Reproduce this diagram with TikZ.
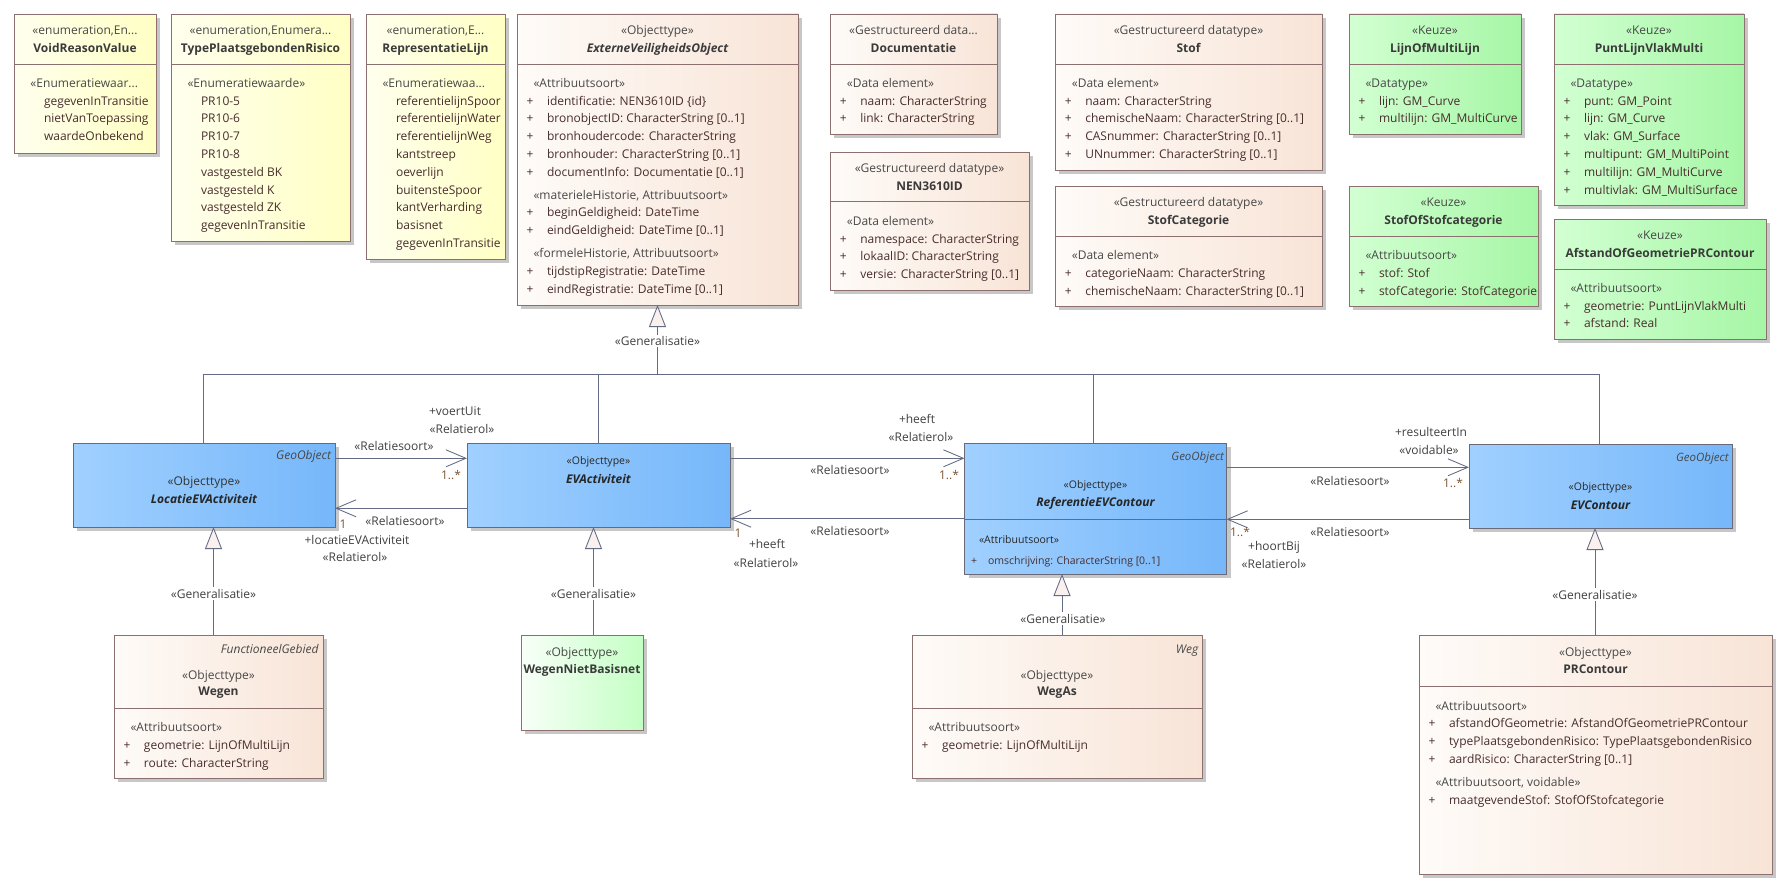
\documentclass[tikz,border=0pt]{standalone}
\usepackage{fontspec}
\setmainfont{Open Sans}
\usetikzlibrary{arrows.meta,shadows}
\definecolor{bordc}{RGB}{140,112,112}
\definecolor{bluB}{RGB}{105,105,120}
\definecolor{yelL}{RGB}{255,255,238}
\definecolor{yelR}{RGB}{255,255,196}
\definecolor{peaL}{RGB}{254,251,248}
\definecolor{peaR}{RGB}{248,228,215}
\definecolor{grnL}{RGB}{210,255,210}
\definecolor{grnR}{RGB}{166,246,166}
\definecolor{lgrL}{RGB}{248,255,248}
\definecolor{lgrR}{RGB}{196,255,196}
\definecolor{bluL}{RGB}{160,208,255}
\definecolor{bluR}{RGB}{118,183,250}
\definecolor{linc}{RGB}{98,106,132}
\definecolor{genfill}{RGB}{250,240,238}
\definecolor{stc}{RGB}{72,72,72}
\definecolor{ttc}{RGB}{58,58,58}
\definecolor{atc}{RGB}{72,45,45}
\definecolor{lbc}{RGB}{64,64,64}
\definecolor{mlc}{RGB}{125,85,50}
\newcommand\umlfs{\fontsize{12}{17.8}\selectfont}
\newcommand\umlpl[1]{\makebox[20.5pt][l]{+}#1}
\newcommand\umlst[1]{\hspace*{7pt}\textcolor{stc}{#1}}
\newcommand\umlen[1]{\hspace*{13.5pt}#1}
\newcommand\umlbox[6]{\node[#2, minimum width=#5pt, minimum height=#6pt] (#1) at (#3,#4) {};}
\begin{document}
\begin{tikzpicture}[x=1pt,y=-1pt,
  every node/.style={font=\umlfs, inner sep=0pt, outer sep=0pt},
  ubox/.style={draw=bordc, line width=0.9pt, anchor=north west,
    drop shadow={shadow xshift=4pt, shadow yshift=-4pt, fill=black!22, opacity=1}},
  yel/.style={ubox, left color=yelL, right color=yelR},
  peach/.style={ubox, left color=peaL, right color=peaR},
  grn/.style={ubox, left color=grnL, right color=grnR},
  lgrn/.style={ubox, left color=lgrL, right color=lgrR},
  blu/.style={ubox, draw=bluB, left color=bluL, right color=bluR},
  ster/.style={anchor=base, text=stc},
  ttl/.style={anchor=base, text=ttc, font=\umlfs\bfseries},
  ttli/.style={anchor=base, text=black!85, font=\umlfs\bfseries\itshape},
  attr/.style={anchor=base west, text=atc},
  geo/.style={anchor=base east, text=stc, font=\umlfs\itshape},
  bster/.style={anchor=base, text=black!85, font=\fontsize{10.5}{12}\selectfont},
  lbl/.style={anchor=base, text=lbc},
  mul/.style={anchor=base, text=mlc},
  glbl/.style={anchor=base, text=lbc, fill=white, inner sep=1.5pt},
  divl/.style={draw=bordc, line width=0.9pt},
  bdivl/.style={draw=bluB, line width=0.9pt},
  conn/.style={draw=linc, line width=0.85pt},
  assoc/.style={conn, -{Straight Barb[length=20pt,width=17pt]}},
  genl/.style={conn, -{Triangle[length=22pt,width=17pt,fill=genfill]}}
]
\path[use as bounding box, fill=white] (0,0) rectangle (1791,891);

% ---------- top row boxes ----------
\umlbox{void}{yel}{14}{14}{142}{139}
\umlbox{tpr}{yel}{171}{14}{179}{227}
\umlbox{rep}{yel}{366}{14}{139}{245}
\umlbox{evo}{peach}{517}{14}{281}{291}
\umlbox{doc}{peach}{830}{14}{167}{120}
\umlbox{nen}{peach}{830}{152}{199}{138}
\umlbox{stof}{peach}{1055}{14}{267}{156}
\umlbox{stofcat}{peach}{1055}{186}{267}{120}
\umlbox{lijn}{grn}{1349}{14}{172}{120}
\umlbox{sos}{grn}{1349}{186}{189}{120}
\umlbox{plvm}{grn}{1554}{14}{190}{191}
\umlbox{afst}{grn}{1554}{219}{212}{120}

% ---------- middle row ----------
\umlbox{loc}{blu}{73}{443}{262}{84}
\umlbox{eva}{blu}{467}{443}{263}{84}
\umlbox{ref}{blu}{964.5}{443}{262}{131}
\umlbox{evc}{blu}{1469}{444}{263}{84}

% ---------- bottom row ----------
\umlbox{wegen}{peach}{114}{635}{209}{143}
\umlbox{wnb}{lgrn}{521}{635}{122}{95}
\umlbox{wegas}{peach}{912}{635}{290}{143}
\umlbox{prc}{peach}{1419}{635}{353}{239}

% ---------- dividers ----------
\foreach \b in {void,tpr,rep,evo,doc,stof,lijn,plvm}
  \draw[divl] (\b.west |- 0,64.3) -- (\b.east |- 0,64.3);
\draw[divl] (nen.west |- 0,201.7) -- (nen.east |- 0,201.7);
\draw[divl] (stofcat.west |- 0,236.3) -- (stofcat.east |- 0,236.3);
\draw[divl] (sos.west |- 0,236.3) -- (sos.east |- 0,236.3);
\draw[divl] (afst.west |- 0,269.3) -- (afst.east |- 0,269.3);
\draw[bdivl] (ref.west |- 0,519.3) -- (ref.east |- 0,519.3);
\draw[divl] (wegen.west |- 0,708.3) -- (wegen.east |- 0,708.3);
\draw[divl] (wegas.west |- 0,708.3) -- (wegas.east |- 0,708.3);
\draw[divl] (prc.west |- 0,686) -- (prc.east |- 0,686);

% ---------- texts: enumerations ----------
\node[ster] (voidS) at (85,34.7) {«enumeration,En...};
\node[ttl] (voidT) at (85,52.7) {VoidReasonValue};
\node[attr] (voidA) at (30.5,87.3) {\begin{tabular}[t]{@{}l@{}}\textcolor{stc}{«Enumeratiewaar...}\\
\umlen{gegevenInTransitie}\\ \umlen{nietVanToepassing}\\ \umlen{waardeOnbekend}\end{tabular}};

\node[ster] (tprS) at (260.5,34.7) {«enumeration,Enumera...};
\node[ttl] (tprT) at (260.5,52.7) {TypePlaatsgebondenRisico};
\node[attr] (tprA) at (187.5,87.3) {\begin{tabular}[t]{@{}l@{}}\textcolor{stc}{«Enumeratiewaarde»}\\
\umlen{PR10-5}\\ \umlen{PR10-6}\\ \umlen{PR10-7}\\ \umlen{PR10-8}\\ \umlen{vastgesteld BK}\\
\umlen{vastgesteld K}\\ \umlen{vastgesteld ZK}\\ \umlen{gegevenInTransitie}\end{tabular}};

\node[ster] (repS) at (435.5,34.7) {«enumeration,E...};
\node[ttl] (repT) at (435.5,52.7) {RepresentatieLijn};
\node[attr] (repA) at (382.5,87.3) {\begin{tabular}[t]{@{}l@{}}\textcolor{stc}{«Enumeratiewaa...}\\
\umlen{referentielijnSpoor}\\ \umlen{referentielijnWater}\\ \umlen{referentielijnWeg}\\
\umlen{kantstreep}\\ \umlen{oeverlijn}\\ \umlen{buitensteSpoor}\\ \umlen{kantVerharding}\\
\umlen{basisnet}\\ \umlen{gegevenInTransitie}\end{tabular}};

% ---------- ExterneVeiligheidsObject ----------
\node[ster] (evoS) at (657.5,34.7) {«Objecttype»};
\node[ttli, text=ttc] (evoT) at (657.5,52.7) {ExterneVeiligheidsObject};
\node[attr] (evoA) at (526.5,87.3) {\begin{tabular}[t]{@{}l@{}}\umlst{«Attribuutsoort»}\\
\umlpl{identificatie: NEN3610ID \{id\}}\\
\umlpl{bronobjectID: CharacterString [0..1]}\\
\umlpl{bronhoudercode: CharacterString}\\
\umlpl{bronhouder: CharacterString [0..1]}\\
\umlpl{documentInfo: Documentatie [0..1]}\\[5pt]
\umlst{«materieleHistorie, Attribuutsoort»}\\
\umlpl{beginGeldigheid: DateTime}\\
\umlpl{eindGeldigheid: DateTime [0..1]}\\[5pt]
\umlst{«formeleHistorie, Attribuutsoort»}\\
\umlpl{tijdstipRegistratie: DateTime}\\
\umlpl{eindRegistratie: DateTime [0..1]}\end{tabular}};

% ---------- data types ----------
\node[ster] (docS) at (913.5,34.7) {«Gestructureerd data...};
\node[ttl] (docT) at (913.5,52.7) {Documentatie};
\node[attr] (docA) at (839.8,87.3) {\begin{tabular}[t]{@{}l@{}}\umlst{«Data element»}\\
\umlpl{naam: CharacterString}\\ \umlpl{link: CharacterString}\end{tabular}};

\node[ster] (nenS) at (929.5,172.3) {«Gestructureerd datatype»};
\node[ttl] (nenT) at (929.5,190) {NEN3610ID};
\node[attr] (nenA) at (839.8,225.3) {\begin{tabular}[t]{@{}l@{}}\umlst{«Data element»}\\
\umlpl{namespace: CharacterString}\\ \umlpl{lokaalID: CharacterString}\\
\umlpl{versie: CharacterString [0..1]}\end{tabular}};

\node[ster] (stofS) at (1188.5,34.7) {«Gestructureerd datatype»};
\node[ttl] (stofT) at (1188.5,52.7) {Stof};
\node[attr] (stofA) at (1064.8,87.3) {\begin{tabular}[t]{@{}l@{}}\umlst{«Data element»}\\
\umlpl{naam: CharacterString}\\ \umlpl{chemischeNaam: CharacterString [0..1]}\\
\umlpl{CASnummer: CharacterString [0..1]}\\ \umlpl{UNnummer: CharacterString [0..1]}\end{tabular}};

\node[ster] (stofcatS) at (1188.5,206.7) {«Gestructureerd datatype»};
\node[ttl] (stofcatT) at (1188.5,224.3) {StofCategorie};
\node[attr] (stofcatA) at (1064.8,259.7) {\begin{tabular}[t]{@{}l@{}}\umlst{«Data element»}\\
\umlpl{categorieNaam: CharacterString}\\ \umlpl{chemischeNaam: CharacterString [0..1]}\end{tabular}};

% ---------- Keuze ----------
\node[ster] (lijnS) at (1435,34.7) {«Keuze»};
\node[ttl] (lijnT) at (1435,52.7) {LijnOfMultiLijn};
\node[attr] (lijnA) at (1358.5,87.3) {\begin{tabular}[t]{@{}l@{}}\umlst{«Datatype»}\\
\umlpl{lijn: GM\_Curve}\\ \umlpl{multilijn: GM\_MultiCurve}\end{tabular}};

\node[ster] (sosS) at (1443.5,206.7) {«Keuze»};
\node[ttl] (sosT) at (1443.5,224.3) {StofOfStofcategorie};
\node[attr] (sosA) at (1358.5,259.7) {\begin{tabular}[t]{@{}l@{}}\umlst{«Attribuutsoort»}\\
\umlpl{stof: Stof}\\ \umlpl{stofCategorie: StofCategorie}\end{tabular}};

\node[ster] (plvmS) at (1649,34.7) {«Keuze»};
\node[ttl] (plvmT) at (1649,52.7) {PuntLijnVlakMulti};
\node[attr] (plvmA) at (1563.5,87.3) {\begin{tabular}[t]{@{}l@{}}\umlst{«Datatype»}\\
\umlpl{punt: GM\_Point}\\ \umlpl{lijn: GM\_Curve}\\ \umlpl{vlak: GM\_Surface}\\
\umlpl{multipunt: GM\_MultiPoint}\\ \umlpl{multilijn: GM\_MultiCurve}\\
\umlpl{multivlak: GM\_MultiSurface}\end{tabular}};

\node[ster] (afstS) at (1660,239.7) {«Keuze»};
\node[ttl] (afstT) at (1660,257.7) {AfstandOfGeometriePRContour};
\node[attr] (afstA) at (1563.5,292.3) {\begin{tabular}[t]{@{}l@{}}\umlst{«Attribuutsoort»}\\
\umlpl{geometrie: PuntLijnVlakMulti}\\ \umlpl{afstand: Real}\end{tabular}};

% ---------- blue boxes ----------
\node[geo] (locG) at (331,459.7) {GeoObject};
\node[ster, text=black!80] (locS) at (204,485.7) {«Objecttype»};
\node[ttli] (locT) at (204,503.3) {LocatieEVActiviteit};

\node[bster] (evaS) at (598.5,464) {«Objecttype»};
\node[ttli] (evaT) at (598.5,483) {EVActiviteit};

\node[geo, font=\fontsize{11.5}{12}\selectfont\itshape] (refG) at (1224,460.7) {GeoObject};
\node[bster] (refS) at (1095.5,488.3) {«Objecttype»};
\node[ttli] (refT) at (1095.5,506.7) {ReferentieEVContour};
\node[attr, text=black!85, font=\fontsize{10.5}{12}\selectfont] (refA) at (979,543) {«Attribuutsoort»};
\node[attr, font=\fontsize{10.5}{12}\selectfont] (refB) at (971,564) {\makebox[17pt][l]{+}omschrijving: CharacterString [0..1]};

\node[geo, font=\fontsize{11.5}{12}\selectfont\itshape] (evcG) at (1728.7,461.7) {GeoObject};
\node[bster] (evcS) at (1600.5,490) {«Objecttype»};
\node[ttli] (evcT) at (1600.5,509) {EVContour};

% ---------- bottom boxes ----------
\node[geo] (wegenG) at (318.6,653) {FunctioneelGebied};
\node[ster] (wegenS) at (218.5,679) {«Objecttype»};
\node[ttl] (wegenT) at (218.5,695.7) {Wegen};
\node[attr] (wegenA) at (123.5,731.7) {\begin{tabular}[t]{@{}l@{}}\umlst{«Attribuutsoort»}\\
\umlpl{geometrie: LijnOfMultiLijn}\\ \umlpl{route: CharacterString}\end{tabular}};

\node[ster] (wnbS) at (582,656.7) {«Objecttype»};
\node[ttl] (wnbT) at (582,673.3) {WegenNietBasisnet};

\node[geo] (wegasG) at (1198.4,653) {Weg};
\node[ster] (wegasS) at (1057,679) {«Objecttype»};
\node[ttl] (wegasT) at (1057,695.7) {WegAs};
\node[attr] (wegasA) at (921.5,731.7) {\begin{tabular}[t]{@{}l@{}}\umlst{«Attribuutsoort»}\\
\umlpl{geometrie: LijnOfMultiLijn}\end{tabular}};

\node[ster] (prcS) at (1595.5,656.3) {«Objecttype»};
\node[ttl] (prcT) at (1595.5,673.3) {PRContour};
\node[attr] (prcA) at (1428.5,710) {\begin{tabular}[t]{@{}l@{}}\umlst{«Attribuutsoort»}\\
\umlpl{afstandOfGeometrie: AfstandOfGeometriePRContour}\\
\umlpl{typePlaatsgebondenRisico: TypePlaatsgebondenRisico}\\
\umlpl{aardRisico: CharacterString [0..1]}\\[5.5pt]
\umlst{«Attribuutsoort, voidable»}\\
\umlpl{maatgevendeStof: StofOfStofcategorie}\end{tabular}};

% ---------- generalisation tree to ExterneVeiligheidsObject ----------
\coordinate (busL) at (203,374);
\coordinate (busR) at (1599,374);
\coordinate (busE) at (598,374);
\coordinate (busF) at (1093,374);
\coordinate (busG) at (657.5,374);
\draw[conn] (loc.north -| busL) -- (busL) -- (busR) -- (evc.north -| busR);
\draw[conn] (eva.north -| busE) -- (busE);
\draw[conn] (ref.north -| busF) -- (busF);
\draw[genl] (busG) -- (evo.south -| busG);
\node[glbl] (g0) at (657.5,345.7) {«Generalisatie»};

% ---------- generalisations from bottom ----------
\draw[genl] (wegen.north -| 213.5,0) -- (loc.south -| 213.5,0);
\node[glbl] (g1) at (213.5,598) {«Generalisatie»};
\draw[genl] (wnb.north -| 593.5,0) -- (eva.south -| 593.5,0);
\node[glbl] (g2) at (593.5,598) {«Generalisatie»};
\draw[genl] (wegas.north -| 1062,0) -- (ref.south -| 1062,0);
\node[glbl] (g3) at (1063,623) {«Generalisatie»};
\draw[genl] (prc.north -| 1595,0) -- (evc.south -| 1595,0);
\node[glbl] (g4) at (1595,599) {«Generalisatie»};

% ---------- associations ----------
\draw[assoc] (loc.east |- 0,458.3) -- (eva.west |- 0,458.3);
\node[lbl] (a1a) at (455,415.7) {+voertUit};
\node[lbl] (a1b) at (462,433.3) {«Relatierol»};
\node[lbl] (a1c) at (394,450) {«Relatiesoort»};
\node[mul] (a1d) at (451,479) {1..*};

\draw[assoc] (eva.west |- 0,508.3) -- (loc.east |- 0,508.3);
\node[mul] (a2a) at (343,528) {1};
\node[lbl] (a2b) at (405,525.7) {«Relatiesoort»};
\node[lbl] (a2c) at (357,544.7) {+locatieEVActiviteit};
\node[lbl] (a2d) at (355,561.7) {«Relatierol»};

\draw[assoc] (eva.east |- 0,458.3) -- (ref.west |- 0,458.3);
\node[lbl] (a3a) at (917,423) {+heeft};
\node[lbl] (a3b) at (921,441) {«Relatierol»};
\node[lbl] (a3c) at (850,474.7) {«Relatiesoort»};
\node[mul] (a3d) at (949,479) {1..*};

\draw[assoc] (ref.west |- 0,518.7) -- (eva.east |- 0,518.7);
\node[mul] (a4a) at (738,537.3) {1};
\node[lbl] (a4b) at (850,535) {«Relatiesoort»};
\node[lbl] (a4c) at (767,548) {+heeft};
\node[lbl] (a4d) at (766,567) {«Relatierol»};

\draw[assoc] (ref.east |- 0,467.3) -- (evc.west |- 0,467.3);
\node[lbl] (a5a) at (1431,436.7) {+resulteertIn};
\node[lbl] (a5b) at (1429,454) {«voidable»};
\node[lbl] (a5c) at (1350,485) {«Relatiesoort»};
\node[mul] (a5d) at (1453,487) {1..*};

\draw[assoc] (evc.west |- 0,519.3) -- (ref.east |- 0,519.3);
\node[mul] (a6a) at (1240,536) {1..*};
\node[lbl] (a6b) at (1350,536) {«Relatiesoort»};
\node[lbl] (a6c) at (1274,550.7) {+hoortBij};
\node[lbl] (a6d) at (1274,568) {«Relatierol»};
\end{tikzpicture}
\end{document}
